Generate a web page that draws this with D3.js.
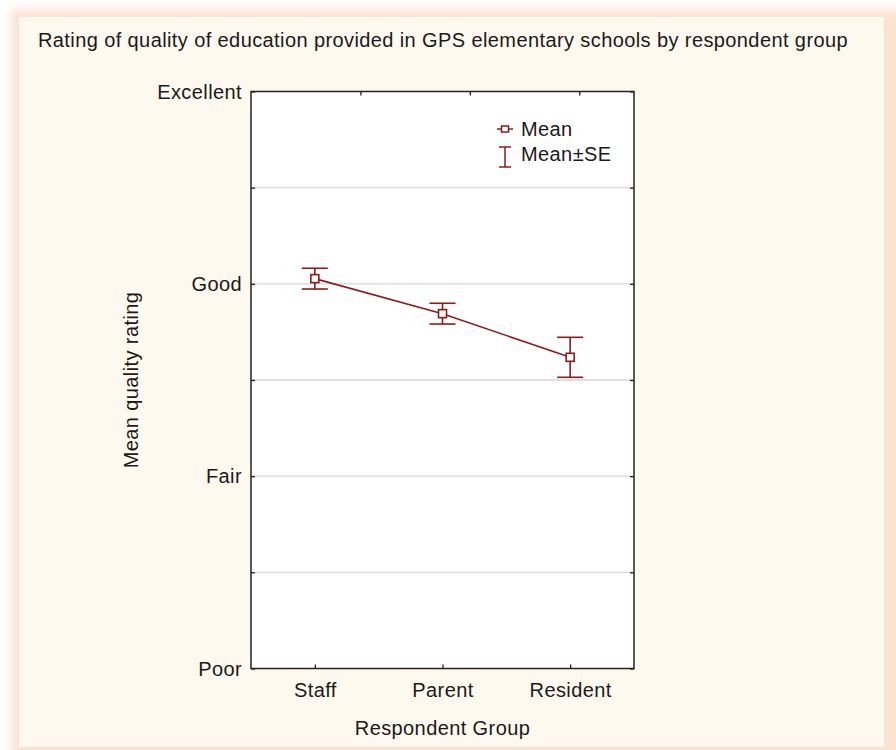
<!DOCTYPE html>
<html>
<head>
<meta charset="utf-8">
<script src="https://cdn.jsdelivr.net/npm/d3@7"></script>
<style>
  body { margin: 0; background: #fff; }
  text { font-family: 'Liberation Sans', Arial, sans-serif; fill: #1a1a1a; letter-spacing: 0.4px; }
</style>
</head>
<body>
<script>
// data (1 = Poor ... 4 = Excellent)
var groups = ['Staff', 'Parent', 'Resident'];
var means = [3.027, 2.845, 2.618];
var se = [0.054, 0.054, 0.104];
var levelValues = [1, 2, 3, 4];
var levelLabels = ['Poor', 'Fair', 'Good', 'Excellent'];
var gridValues = [1.5, 2, 2.5, 3, 3.5];
var topTicks = [1, 2, 3];

var W = 896, H = 750;
var pLeft = 251, pRight = 634, pTop = 91.5, pBottom = 668.5;
var red = '#8e1b1b';
var fs = '20px';

var svg = d3.select('body').append('svg').attr('width', W).attr('height', H);

var defs = svg.append('defs');
defs.append('filter').attr('id', 'glow')
  .attr('x', '-10%').attr('y', '-10%').attr('width', '120%').attr('height', '120%')
  .append('feGaussianBlur').attr('stdDeviation', 5);

// panel
svg.append('rect').attr('x', 11).attr('y', 9).attr('width', 895).attr('height', 752)
  .attr('fill', '#fbe3d2').attr('filter', 'url(#glow)');
svg.append('rect').attr('x', 19).attr('y', 17).attr('width', 865).attr('height', 730)
  .attr('fill', '#fef9ef');

svg.append('text')
  .attr('x', 443).attr('y', 47)
  .attr('text-anchor', 'middle')
  .attr('font-size', fs)
  .text('Rating of quality of education provided in GPS elementary schools by respondent group');

var x = d3.scalePoint().domain(groups).range([pLeft, pRight]).padding(0.5);
var xTop = d3.scaleLinear().domain([0, 3.5]).range([pLeft, pRight]);
var y = d3.scaleLinear().domain([1, 4]).range([pBottom, pTop]);

svg.append('rect').attr('x', pLeft).attr('y', pTop)
  .attr('width', pRight - pLeft).attr('height', pBottom - pTop).attr('fill', '#fff');

// grid
svg.append('g').selectAll('line').data(gridValues).enter().append('line')
  .attr('x1', pLeft).attr('x2', pRight)
  .attr('y1', function (d) { return y(d); })
  .attr('y2', function (d) { return y(d); })
  .attr('stroke', '#d6d6d6').attr('stroke-width', 1.3);

function styleAxis(g) {
  g.select('.domain').remove();
  g.selectAll('line').attr('stroke', '#222').attr('stroke-width', 1.3);
  g.selectAll('text').attr('font-size', fs).attr('fill', '#1a1a1a')
    .attr('font-family', "'Liberation Sans', Arial, sans-serif");
}

var yTicks = [1, 1.5, 2, 2.5, 3, 3.5, 4];
svg.append('g').attr('transform', 'translate(' + pLeft + ',0)')
  .call(d3.axisLeft(y).tickValues(yTicks).tickSizeInner(-4).tickSizeOuter(0).tickPadding(9)
    .tickFormat(function (d) { var i = levelValues.indexOf(d); return i < 0 ? '' : levelLabels[i]; }))
  .call(styleAxis)
  .selectAll('text').attr('dy', '0.33em');

svg.append('g').attr('transform', 'translate(' + pRight + ',0)')
  .call(d3.axisRight(y).tickValues(yTicks).tickSizeInner(-4).tickSizeOuter(0).tickFormat(''))
  .call(styleAxis);

svg.append('g').attr('transform', 'translate(0,' + pBottom + ')')
  .call(d3.axisBottom(x).tickSizeInner(-4).tickSizeOuter(0).tickPadding(14))
  .call(styleAxis);

svg.append('g').attr('transform', 'translate(0,' + pTop + ')')
  .call(d3.axisTop(xTop).tickValues(topTicks).tickSizeInner(-4).tickSizeOuter(0).tickFormat(''))
  .call(styleAxis);

// frame
svg.append('rect').attr('x', pLeft).attr('y', pTop)
  .attr('width', pRight - pLeft).attr('height', pBottom - pTop)
  .attr('fill', 'none').attr('stroke', '#222').attr('stroke-width', 1.5);

// axis titles
svg.append('text')
  .attr('transform', 'translate(138,' + (pTop + pBottom) / 2 + ') rotate(-90)')
  .attr('text-anchor', 'middle').attr('font-size', fs)
  .text('Mean quality rating');

svg.append('text')
  .attr('x', (pLeft + pRight) / 2).attr('y', 735)
  .attr('text-anchor', 'middle').attr('font-size', fs)
  .text('Respondent Group');

// series
var data = groups.map(function (g, i) { return { g: g, m: means[i], se: se[i] }; });
var plot = svg.append('g');

plot.append('path').datum(data)
  .attr('fill', 'none').attr('stroke', red).attr('stroke-width', 1.6)
  .attr('d', d3.line().x(function (d) { return x(d.g); }).y(function (d) { return y(d.m); }));

var cap = 13;
var eb = plot.selectAll('.eb').data(data).enter().append('g').attr('class', 'eb')
  .attr('stroke', red).attr('stroke-width', 1.6).attr('fill', 'none');
eb.append('line')
  .attr('x1', function (d) { return x(d.g); }).attr('x2', function (d) { return x(d.g); })
  .attr('y1', function (d) { return y(d.m + d.se); }).attr('y2', function (d) { return y(d.m - d.se); });
eb.append('line')
  .attr('x1', function (d) { return x(d.g) - cap; }).attr('x2', function (d) { return x(d.g) + cap; })
  .attr('y1', function (d) { return y(d.m + d.se); }).attr('y2', function (d) { return y(d.m + d.se); });
eb.append('line')
  .attr('x1', function (d) { return x(d.g) - cap; }).attr('x2', function (d) { return x(d.g) + cap; })
  .attr('y1', function (d) { return y(d.m - d.se); }).attr('y2', function (d) { return y(d.m - d.se); });
eb.append('rect')
  .attr('x', function (d) { return x(d.g) - 4; }).attr('y', function (d) { return y(d.m) - 4; })
  .attr('width', 8).attr('height', 8).attr('fill', '#fff');

// legend
var lg = svg.append('g').attr('transform', 'translate(497,0)');
lg.append('line').attr('x1', 0).attr('x2', 16).attr('y1', 129).attr('y2', 129)
  .attr('stroke', red).attr('stroke-width', 1.5);
lg.append('rect').attr('x', 4.5).attr('y', 126).attr('width', 7).attr('height', 6)
  .attr('fill', '#fff').attr('stroke', red).attr('stroke-width', 1.5);
lg.append('text').attr('x', 24).attr('y', 136).attr('font-size', fs).text('Mean');
lg.append('line').attr('x1', 8).attr('x2', 8).attr('y1', 147).attr('y2', 167)
  .attr('stroke', red).attr('stroke-width', 1.5);
lg.append('line').attr('x1', 2).attr('x2', 14).attr('y1', 147).attr('y2', 147)
  .attr('stroke', red).attr('stroke-width', 1.5);
lg.append('line').attr('x1', 2).attr('x2', 14).attr('y1', 167).attr('y2', 167)
  .attr('stroke', red).attr('stroke-width', 1.5);
lg.append('text').attr('x', 24).attr('y', 161).attr('font-size', fs).text('Mean±SE');
</script>
</body>
</html>
